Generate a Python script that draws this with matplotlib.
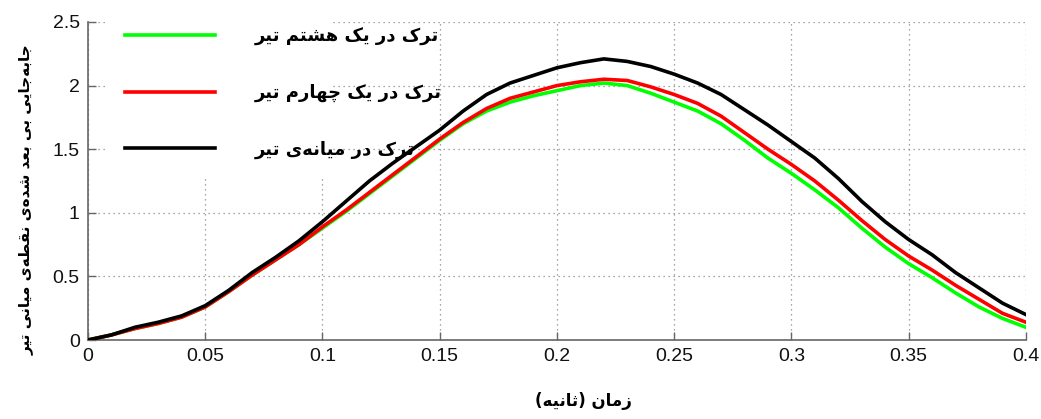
import matplotlib
matplotlib.use('Agg')
import matplotlib.pyplot as plt
from matplotlib.patches import Rectangle

# time (s) and normalised mid-span deflection for the three crack positions
t = [0.00, 0.01, 0.02, 0.03, 0.04, 0.05, 0.06, 0.07, 0.08, 0.09,
     0.10, 0.11, 0.12, 0.13, 0.14, 0.15, 0.16, 0.17, 0.18, 0.19,
     0.20, 0.21, 0.22, 0.23, 0.24, 0.25, 0.26, 0.27, 0.28, 0.29,
     0.30, 0.31, 0.32, 0.33, 0.34, 0.35, 0.36, 0.37, 0.38, 0.39, 0.40]
crack_eighth = [0.00, 0.04, 0.09, 0.13, 0.18, 0.26, 0.38, 0.51, 0.63, 0.75,
                0.88, 1.01, 1.15, 1.29, 1.43, 1.57, 1.70, 1.80, 1.87, 1.92,
                1.96, 2.00, 2.02, 2.00, 1.94, 1.87, 1.80, 1.70, 1.57, 1.43,
                1.31, 1.18, 1.04, 0.88, 0.73, 0.60, 0.49, 0.37, 0.26, 0.17, 0.10]
crack_quarter = [0.00, 0.04, 0.09, 0.13, 0.18, 0.26, 0.38, 0.51, 0.63, 0.75,
                 0.89, 1.02, 1.16, 1.30, 1.44, 1.58, 1.71, 1.82, 1.90, 1.95,
                 2.00, 2.03, 2.05, 2.04, 1.99, 1.93, 1.86, 1.76, 1.63, 1.50,
                 1.38, 1.25, 1.10, 0.94, 0.79, 0.66, 0.55, 0.43, 0.32, 0.21, 0.14]
crack_middle = [0.00, 0.04, 0.10, 0.14, 0.19, 0.27, 0.39, 0.53, 0.65, 0.78,
                0.93, 1.09, 1.25, 1.39, 1.52, 1.65, 1.80, 1.93, 2.02, 2.08,
                2.14, 2.18, 2.21, 2.19, 2.15, 2.09, 2.02, 1.93, 1.81, 1.69,
                1.56, 1.43, 1.27, 1.09, 0.93, 0.79, 0.67, 0.53, 0.41, 0.29, 0.20]

labels = ['ترک در یک هشتم تیر', 'ترک در یک چهارم تیر', 'ترک در میانه‌ی تیر']
colors = ['#00ff00', '#ff0000', '#000000']
xticks = [0, 0.05, 0.1, 0.15, 0.2, 0.25, 0.3, 0.35, 0.4]
xticklabels = ['0', '0.05', '0.1', '0.15', '0.2', '0.25', '0.3', '0.35', '0.4']
yticks = [0, 0.5, 1, 1.5, 2, 2.5]
yticklabels = ['0', '0.5', '1', '1.5', '2', '2.5']
xlabel = 'زمان (ثانیه)'
ylabel = 'جابه‌جایی بی بعد شده‌ی نقطه‌ی میانی تیر'

# matplotlib has no arabic shaping, so map letters to presentation forms
FORMS = {
    'ا': ('\uFE8D', '\uFE8E'),
    'د': ('\uFEA9', '\uFEAA'),
    'ر': ('\uFEAD', '\uFEAE'),
    'ز': ('\uFEAF', '\uFEB0'),
    'ب': ('\uFE8F', '\uFE90', '\uFE91', '\uFE92'),
    'ت': ('\uFE95', '\uFE96', '\uFE97', '\uFE98'),
    'ث': ('\uFE99', '\uFE9A', '\uFE9B', '\uFE9C'),
    'ج': ('\uFE9D', '\uFE9E', '\uFE9F', '\uFEA0'),
    'ش': ('\uFEB5', '\uFEB6', '\uFEB7', '\uFEB8'),
    'ط': ('\uFEC1', '\uFEC2', '\uFEC3', '\uFEC4'),
    'ع': ('\uFEC9', '\uFECA', '\uFECB', '\uFECC'),
    'ق': ('\uFED5', '\uFED6', '\uFED7', '\uFED8'),
    'م': ('\uFEE1', '\uFEE2', '\uFEE3', '\uFEE4'),
    'ن': ('\uFEE5', '\uFEE6', '\uFEE7', '\uFEE8'),
    'ه': ('\uFEE9', '\uFEEA', '\uFEEB', '\uFEEC'),
    'ی': ('\uFBFC', '\uFBFD', '\uFBFE', '\uFBFF'),
    'ک': ('\uFB8E', '\uFB8F', '\uFB90', '\uFB91'),
    'چ': ('\uFB7A', '\uFB7B', '\uFB7C', '\uFB7D'),
}


def fa(s):
    out = []
    for i, c in enumerate(s):
        if c not in FORMS:
            out.append('' if c == '\u200c' else c)
            continue
        prev = s[i - 1] if i > 0 else ''
        nxt = s[i + 1] if i + 1 < len(s) else ''
        jp = prev in FORMS and len(FORMS[prev]) == 4
        jn = nxt in FORMS and len(FORMS[c]) == 4
        f = FORMS[c]
        if jp and jn:
            out.append(f[3])
        elif jp:
            out.append(f[1])
        elif jn:
            out.append(f[2])
        else:
            out.append(f[0])
    vis = ''.join(out)[::-1]
    return vis.translate(str.maketrans('()', ')('))


plt.rcParams['font.family'] = ['Liberation Sans', 'DejaVu Sans']

fig = plt.figure(figsize=(10.41, 4.19), dpi=100)
ax = fig.add_axes([0.0845, 0.1885, 0.901, 0.759])

for y, c, lab in zip([crack_eighth, crack_quarter, crack_middle], colors, labels):
    ax.plot(t, y, color=c, lw=2.6, label=fa(lab), zorder=3)

ax.set_xlim(0, 0.4)
ax.set_ylim(0, 2.5)
ax.set_xticks(xticks)
ax.set_xticklabels(xticklabels)
ax.set_yticks(yticks)
ax.set_yticklabels(yticklabels)
ax.tick_params(direction='in', length=6, width=1, color='#666666',
               labelsize=14, labelcolor='#111111', pad=6)
ax.set_axisbelow(True)
ax.grid(True, linestyle=(0, (1, 3)), color='#888888', lw=0.9)
for s in ['top', 'right']:
    ax.spines[s].set_visible(False)
for s in ['left', 'bottom']:
    ax.spines[s].set_color('#666666')
    ax.spines[s].set_linewidth(1.2)

# white box behind legend (covers the grid like the original)
ax.add_patch(Rectangle((0.021, 0.509), 0.24, 0.52, transform=ax.transAxes,
                       facecolor='white', edgecolor='none', zorder=1.5,
                       clip_on=False))

leg = ax.legend(loc='upper left', bbox_to_anchor=(0.039, 0.983), frameon=False,
                prop={'family': 'DejaVu Sans', 'weight': 'bold', 'size': 13},
                handlelength=5.0, handletextpad=2.2, labelspacing=2.12,
                borderpad=0, borderaxespad=0)

ax.set_xlabel(fa(xlabel), fontsize=12, fontweight='bold', family='DejaVu Sans')
ax.xaxis.set_label_coords(0.528, -0.163)
ax.set_ylabel(fa(ylabel), fontsize=11, fontweight='bold', family='DejaVu Sans')
ax.yaxis.set_label_coords(-0.058, 0.44)

fig.savefig('out.png', dpi=100)
